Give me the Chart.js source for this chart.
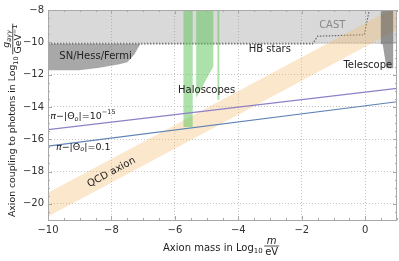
<!DOCTYPE html>
<html><head><meta charset="utf-8">
<script src="https://cdn.jsdelivr.net/npm/chart.js@4.4.0/dist/chart.umd.min.js"></script>
<style>html,body{margin:0;padding:0;background:#fff;overflow:hidden}#wrap{width:399px;height:261px}</style>
</head><body><div id="wrap"><canvas id="c" width="399" height="261"></canvas></div>
<script>
// ---- axes ----
const xRange = [-10, 1];
const yRange = [-21, -8];
const xTickValues = [-10, -8, -6, -4, -2, 0];
const yTickValues = [-20, -18, -16, -14, -12, -10, -8];

// ---- excluded regions (log10 m / eV , log10 g / GeV^-1) ----
const hbStarsX = [-10, 1.2, 1.2, -10];
const hbStarsY = [-7.8, -7.8, -10.1, -10.1];
const snX = [-10, -7.09, -7.28, -7.5, -7.75, -8.38, -9.01, -10];
const snY = [-10.1, -10.1, -10.76, -11.24, -11.36, -11.58, -11.73, -11.73];
const castX = [-10, -1.66, -1.5, -0.03, 0.04, 0.15];
const castY = [-10.1, -10.1, -9.62, -9.53, -8.82, -7.8];
const telescopeX = [0.49, 0.88, 0.88, 0.67, 0.55, 0.49];
const telescopeY = [-7.8, -7.8, -11.6, -11.6, -10.12, -10.1];
const halo1X = [-5.73, -5.44, -5.44, -5.73];
const halo1Y = [-7.8, -7.8, -15.25, -15.25];
const halo2X = [-5.33, -4.79, -4.79, -5.33];
const halo2Y = [-7.8, -7.8, -11.5, -13.45];
const halo3X = [-4.66, -4.6, -4.6, -4.66];
const halo3Y = [-7.8, -7.8, -13.55, -13.55];
// QCD axion band
const qcdX = [-10, 1, 1, -10];
const qcdY = [-19.32, -7.77, -9.23, -20.78];
// theta lines
const thetaSmallX = [-10, 1];
const thetaSmallY = [-15.4, -12.85];
const thetaTenthX = [-10, 1];
const thetaTenthY = [-16.43, -13.68];

// ---- labels ----
const regionNames = ['SN/Hess/Fermi', 'HB stars', 'CAST', 'Telescope', 'Haloscopes'];
const regionNameX = [-8.5, -3.01, -1.04, 0.08, -5.0];
const regionNameY = [-10.85, -10.44, -8.98, -11.44, -13.0];
const regionNameColor = ['#222', '#222', '#888', '#222', '#222'];
const qcdLabel = 'QCD axion';
const qcdLabelPos = [-8.0, -18.05];
const thetaSmallLabelPos = [-8.9, -14.6];
const thetaTenthLabelPos = [-8.89, -16.5];

const FAM = '"DejaVu Sans", sans-serif';
function fnt(size, style) { return (style || '') + ' ' + size + 'px ' + FAM; }
function pts(xs, ys) { return xs.map((v, i) => ({x: v, y: ys[i]})); }
function measure(ctx, segs) {
  let t = 0;
  segs.forEach(s => { ctx.font = fnt(s.size, s.style); s.w = ctx.measureText(s.t).width; t += s.w; });
  return t;
}
function drawRich(ctx, segs, x, y, align) {
  const total = measure(ctx, segs);
  let cx = align === 'center' ? x - total / 2 : (align === 'right' ? x - total : x);
  ctx.textAlign = 'left';
  segs.forEach(s => { ctx.font = fnt(s.size, s.style); ctx.fillText(s.t, cx, y + (s.dy || 0)); cx += s.w; });
  return total;
}
function fmt(v) { return v < 0 ? '\u2212' + Math.abs(v) : String(v); }

function region(xs, ys, color, order) {
  return {data: pts(xs, ys), showLine: true, fill: 'shape', backgroundColor: color,
    borderWidth: 0, borderColor: 'rgba(0,0,0,0)', pointRadius: 0, order: order};
}
function line(xs, ys, color, order, dash) {
  return {data: pts(xs, ys), showLine: true, fill: false, borderColor: color, borderWidth: 1.2,
    borderDash: dash || [], pointRadius: 0, order: order, tension: 0};
}

const frame = {
  id: 'frame',
  afterDraw(chart) {
    const {ctx, chartArea: a, scales: {x, y}} = chart;
    ctx.save();
    ctx.strokeStyle = '#a8a8a8';
    ctx.lineWidth = 1;
    ctx.beginPath();
    for (let v = x.min; v <= x.max + 1e-9; v += 0.5) {
      const p = Math.round(x.getPixelForValue(v)) + 0.5;
      const len = Math.abs(v % 2) < 1e-9 ? 4 : 2;
      ctx.moveTo(p, a.bottom); ctx.lineTo(p, a.bottom - len);
      ctx.moveTo(p, a.top); ctx.lineTo(p, a.top + len);
    }
    for (let v = y.min; v <= y.max + 1e-9; v += 0.5) {
      const p = Math.round(y.getPixelForValue(v)) + 0.5;
      const len = Math.abs(v % 2) < 1e-9 ? 4 : 2;
      ctx.moveTo(a.left, p); ctx.lineTo(a.left + len, p);
      ctx.moveTo(a.right, p); ctx.lineTo(a.right - len, p);
    }
    ctx.stroke();
    ctx.strokeRect(Math.round(a.left) + 0.5, Math.round(a.top) + 0.5, Math.round(a.right - a.left) - 1, Math.round(a.bottom - a.top));
    ctx.restore();
  }
};

const annot = {
  id: 'annot',
  afterDatasetsDraw(chart) {
    const {ctx, scales: {x, y}} = chart;
    ctx.save();
    ctx.textBaseline = 'middle';
    regionNames.forEach((t, i) => {
      ctx.fillStyle = regionNameColor[i];
      drawRich(ctx, [{t: t, size: 10}], x.getPixelForValue(regionNameX[i]), y.getPixelForValue(regionNameY[i]), 'center');
    });
    // QCD axion rotated along band
    const x1 = x.getPixelForValue(qcdX[0]), y1 = y.getPixelForValue(qcdY[0]);
    const x2 = x.getPixelForValue(qcdX[1]), y2 = y.getPixelForValue(qcdY[1]);
    const ang = Math.atan2(y2 - y1, x2 - x1);
    ctx.save();
    ctx.translate(x.getPixelForValue(qcdLabelPos[0]), y.getPixelForValue(qcdLabelPos[1]));
    ctx.rotate(ang);
    ctx.fillStyle = '#222';
    drawRich(ctx, [{t: qcdLabel, size: 10}], 0, 0, 'center');
    ctx.restore();
    // theta labels
    ctx.fillStyle = '#222';
    drawRich(ctx, [{t: '\u03c0', size: 9.5, style: 'italic'}, {t: '\u2212|\u0398', size: 9.5}, {t: 'o', size: 6.5, style: 'italic', dy: 2.5},
      {t: '|=10', size: 9.5}, {t: '\u221215', size: 6.5, dy: -4}],
      x.getPixelForValue(thetaSmallLabelPos[0]), y.getPixelForValue(thetaSmallLabelPos[1]), 'center');
    drawRich(ctx, [{t: '\u03c0', size: 9.5, style: 'italic'}, {t: '\u2212|\u0398', size: 9.5}, {t: 'o', size: 6.5, style: 'italic', dy: 2.5},
      {t: '|=0.1', size: 9.5}],
      x.getPixelForValue(thetaTenthLabelPos[0]), y.getPixelForValue(thetaTenthLabelPos[1]), 'center');
    ctx.restore();
  },
  afterDraw(chart) {
    const {ctx} = chart;
    ctx.save();
    ctx.fillStyle = '#222';
    ctx.textBaseline = 'middle';
    // y title (rotated)
    ctx.save();
    ctx.translate(13, 217);
    ctx.rotate(-Math.PI / 2);
    const w = drawRich(ctx, [{t: 'Axion coupling to photons in Log', size: 9.3}, {t: '10', size: 6.5, dy: 3}], 0, 0, 'left');
    const num = [{t: 'g', size: 9.3, style: 'italic'}, {t: 'a\u03b3\u03b3', size: 6.5, style: 'italic', dy: 2.5}];
    const den = [{t: 'GeV', size: 9.3}, {t: '\u22121', size: 6.5, dy: -3.5}];
    const fw = Math.max(measure(ctx, num), measure(ctx, den)) + 2;
    const fx = w + 2;
    drawRich(ctx, num, fx + fw / 2, -6, 'center');
    drawRich(ctx, den, fx + fw / 2, 5.5, 'center');
    ctx.fillRect(fx, -0.6, fw, 0.8);
    ctx.restore();
    // x title
    const w2 = drawRich(ctx, [{t: 'Axion mass in Log', size: 10}, {t: '10', size: 7, dy: 3}], 163, 248, 'left');
    const n2 = [{t: 'm', size: 10, style: 'italic'}];
    const d2 = [{t: 'eV', size: 10}];
    const fw2 = Math.max(measure(ctx, n2), measure(ctx, d2)) + 2;
    const fx2 = 163 + w2 + 1.5;
    drawRich(ctx, n2, fx2 + fw2 / 2, 241, 'center');
    drawRich(ctx, d2, fx2 + fw2 / 2, 252.5, 'center');
    ctx.fillRect(fx2, 245.6, fw2, 0.8);
    ctx.restore();
  }
};

new Chart(document.getElementById('c'), {
  type: 'scatter',
  data: {
    datasets: [
      line(thetaSmallX, thetaSmallY, '#8f7fc8', 1),
      line(thetaTenthX, thetaTenthY, '#5e81b5', 1),
      region(halo1X, halo1Y, 'rgba(90,195,85,0.5)', 4),
      region(halo2X, halo2Y, 'rgba(90,195,85,0.5)', 4),
      region(halo3X, halo3Y, 'rgba(90,195,85,0.5)', 4),
      region(telescopeX, telescopeY, 'rgba(80,80,80,0.55)', 5),
      region(qcdX, qcdY, 'rgba(240,185,110,0.35)', 6),
      line(castX, castY, '#666', 7, [1.5, 1.5]),
      region(snX, snY, 'rgba(110,110,110,0.6)', 8),
      region(hbStarsX, hbStarsY, 'rgba(128,128,128,0.3)', 9)
    ]
  },
  options: {
    responsive: false,
    animation: false,
    devicePixelRatio: 1,
    layout: {padding: {top: 0, right: 2, left: 0, bottom: 0}},
    plugins: {legend: {display: false}, tooltip: {enabled: false}},
    scales: {
      x: {
        type: 'linear', min: xRange[0], max: xRange[1],
        afterBuildTicks: s => { s.ticks = xTickValues.map(v => ({value: v})); },
        afterFit: s => { s.height = 41; },
        ticks: {callback: v => fmt(v), font: {family: FAM, size: 10}, color: '#333', padding: 4, maxRotation: 0, autoSkip: false},
        grid: {color: '#c4c4c4', drawTicks: false, lineWidth: 1},
        border: {display: false, dash: [1, 2]}
      },
      y: {
        type: 'linear', min: yRange[0], max: yRange[1],
        afterBuildTicks: s => { s.ticks = yTickValues.map(v => ({value: v})); },
        afterFit: s => { s.width = 48; },
        ticks: {callback: v => fmt(v), font: {family: FAM, size: 10}, color: '#333', padding: 4, autoSkip: false},
        grid: {color: '#c4c4c4', drawTicks: false, lineWidth: 1},
        border: {display: false, dash: [1, 2]}
      }
    }
  },
  plugins: [frame, annot]
});
</script>
</body></html>
